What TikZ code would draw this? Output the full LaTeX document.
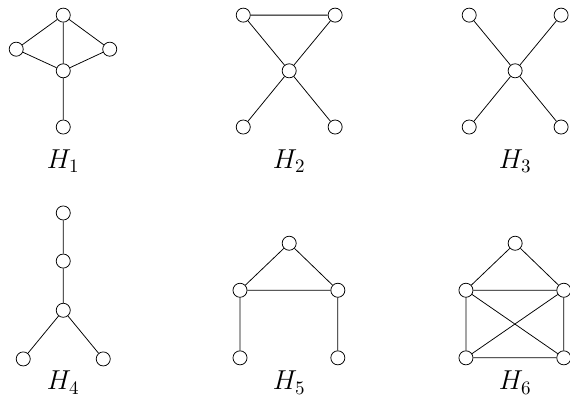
\documentclass[tikz,border=0pt]{standalone}
\usepackage{tikz}
\usetikzlibrary{positioning}

\begin{document}
\begin{tikzpicture}[
  vtx/.style={draw, circle, fill=white, inner sep=0pt, minimum size=0.26cm},
  lbl/.style={inner sep=1pt, font=\Large}
]
  \useasboundingbox (0,0) rectangle (10.545,-7.40);

  % H_1
  \node[vtx] (a1) at (1.17,-0.28) {};
  \node[vtx] (a2) at (0.30,-0.91) {};
  \node[vtx] (a3) at (2.03,-0.91) {};
  \node[vtx] (a4) at (1.17,-1.31) {};
  \node[vtx] (a5) at (1.17,-2.35) {};
  \node[lbl] (la) at (1.17,-2.98) {$H_1$};
  \draw (a1) -- (a2) (a1) -- (a3) (a1) -- (a4) (a2) -- (a4) (a3) -- (a4) (a4) -- (a5);

  % H_2
  \node[vtx] (b1) at (4.50,-0.28) {};
  \node[vtx] (b2) at (6.20,-0.28) {};
  \node[vtx] (b3) at (5.35,-1.31) {};
  \node[vtx] (b4) at (4.50,-2.35) {};
  \node[vtx] (b5) at (6.20,-2.35) {};
  \node[lbl] (lb) at (5.35,-2.98) {$H_2$};
  \draw (b1) -- (b2) (b1) -- (b3) (b2) -- (b3) (b3) -- (b4) (b3) -- (b5);

  % H_3
  \node[vtx] (c1) at (8.68,-0.28) {};
  \node[vtx] (c2) at (10.38,-0.28) {};
  \node[vtx] (c3) at (9.53,-1.31) {};
  \node[vtx] (c4) at (8.68,-2.35) {};
  \node[vtx] (c5) at (10.38,-2.35) {};
  \node[lbl] (lc) at (9.53,-2.98) {$H_3$};
  \draw (c1) -- (c3) (c2) -- (c3) (c3) -- (c4) (c3) -- (c5);

  % H_4
  \node[vtx] (d1) at (1.17,-3.94) {};
  \node[vtx] (d2) at (1.17,-4.83) {};
  \node[vtx] (d3) at (1.17,-5.74) {};
  \node[vtx] (d4) at (0.43,-6.64) {};
  \node[vtx] (d5) at (1.91,-6.64) {};
  \node[lbl] (ld) at (1.17,-7.08) {$H_4$};
  \draw (d1) -- (d2) (d2) -- (d3) (d3) -- (d4) (d3) -- (d5);

  % H_5
  \node[vtx] (e1) at (5.35,-4.50) {};
  \node[vtx] (e2) at (4.44,-5.37) {};
  \node[vtx] (e3) at (6.25,-5.37) {};
  \node[vtx] (e4) at (4.44,-6.62) {};
  \node[vtx] (e5) at (6.25,-6.62) {};
  \node[lbl] (le) at (5.35,-7.08) {$H_5$};
  \draw (e1) -- (e2) (e1) -- (e3) (e2) -- (e3) (e2) -- (e4) (e3) -- (e5);

  % H_6
  \node[vtx] (f1) at (9.53,-4.50) {};
  \node[vtx] (f2) at (8.62,-5.37) {};
  \node[vtx] (f3) at (10.43,-5.37) {};
  \node[vtx] (f4) at (8.62,-6.62) {};
  \node[vtx] (f5) at (10.43,-6.62) {};
  \node[lbl] (lf) at (9.53,-7.08) {$H_6$};
  \draw (f1) -- (f2) (f1) -- (f3) (f2) -- (f3) (f2) -- (f4) (f3) -- (f5)
        (f2) -- (f5) (f3) -- (f4) (f4) -- (f5);
\end{tikzpicture}
\end{document}
